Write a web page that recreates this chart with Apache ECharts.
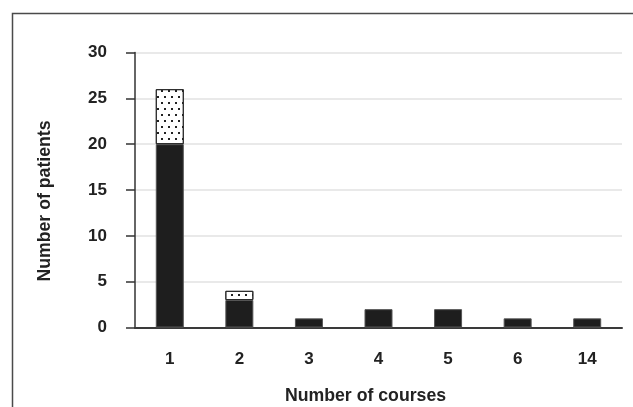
<!DOCTYPE html>
<html>
<head>
<meta charset="utf-8">
<script src="https://cdn.jsdelivr.net/npm/echarts@6/dist/echarts.min.js"></script>
<style>
html,body{margin:0;padding:0;background:#fff;}
#chart{width:633px;height:407px;}
</style>
</head>
<body>
<div id="chart"></div>
<script>
var categories = ['1', '2', '3', '4', '5', '6', '14'];
var solidValues = [20, 3, 1, 2, 2, 1, 1];
var dottedValues = [6, 1, null, null, null, null, null];
var yTicks = { min: 0, max: 30, interval: 5 };
var xAxisTitle = 'Number of courses';
var yAxisTitle = 'Number of patients';

var chart = echarts.init(document.getElementById('chart'), null, { renderer: 'canvas' });
var font = '"Liberation Sans", Arial, sans-serif';
chart.setOption({
  animation: false,
  backgroundColor: '#fff',
  graphic: [{
    type: 'rect',
    shape: { x: 12.5, y: 13.5, width: 700, height: 500 },
    style: { fill: 'none', stroke: '#4a4a4a', lineWidth: 1.5 },
    silent: true
  }, {
    type: 'text',
    x: 365.5, y: 396,
    style: { text: xAxisTitle, textAlign: 'center', textVerticalAlign: 'middle',
      fontFamily: font, fontWeight: 'bold', fontSize: 17.7, fill: '#222' },
    silent: true
  }, {
    type: 'text',
    x: 45.5, y: 201,
    rotation: Math.PI / 2,
    style: { text: yAxisTitle, textAlign: 'center', textVerticalAlign: 'middle',
      fontFamily: font, fontWeight: 'bold', fontSize: 17.7, fill: '#222' },
    silent: true
  }],
  grid: { left: 135, right: 11, top: 52.5, bottom: 79.5, containLabel: false },
  xAxis: {
    type: 'category',
    data: categories,
    axisLine: { lineStyle: { color: '#3a3a3a', width: 2 } },
    axisTick: { show: false },
    axisLabel: { margin: 23, fontFamily: font, fontWeight: 'bold', fontSize: 17, color: '#222' }
  },
  yAxis: {
    type: 'value',
    min: yTicks.min,
    max: yTicks.max,
    interval: yTicks.interval,
    axisLine: { show: true, lineStyle: { color: '#333', width: 1.5 } },
    axisTick: { show: true, inside: false, length: 9, lineStyle: { color: '#333', width: 1.5 } },
    axisLabel: { margin: 28, fontFamily: font, fontWeight: 'bold', fontSize: 17, color: '#222' },
    splitLine: { show: true, lineStyle: { color: '#e2e2e2', width: 1.5 } }
  },
  series: [{
    type: 'bar',
    stack: 'total',
    data: solidValues,
    barWidth: 28,
    itemStyle: { color: '#1e1e1e', borderColor: '#555', borderWidth: 1 }
  }, {
    type: 'bar',
    stack: 'total',
    data: dottedValues,
    barWidth: 28,
    itemStyle: {
      color: '#ffffff',
      borderColor: '#2a2a2a',
      borderWidth: 1,
      decal: {
        symbol: 'rect',
        symbolSize: 1,
        color: '#222',
        dashArrayX: [[1.2, 4.8], [0, 3, 1.2, 1.8]],
        dashArrayY: [1.2, 3.8],
        rotation: 0
      }
    }
  }]
});
</script>
</body>
</html>
